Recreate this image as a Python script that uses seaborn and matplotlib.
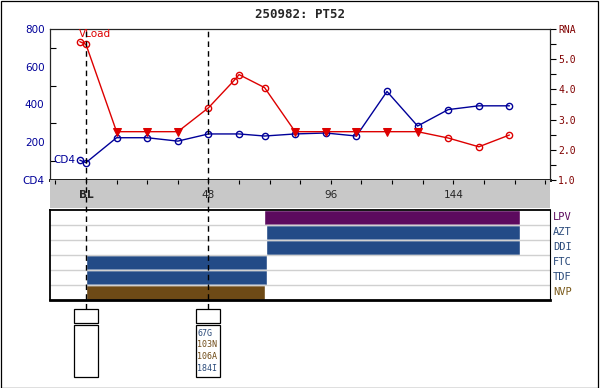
import matplotlib
matplotlib.use("Agg")
import matplotlib.pyplot as plt
from matplotlib.patches import Rectangle
import seaborn as sns

# CD4 counts (weeks from baseline)
cd4_weeks = [-2.4, 0, 12, 24, 36, 48, 60, 70, 82, 94, 106, 118, 130, 142, 154, 166]
cd4_vals = [105, 92, 224, 224, 206, 244, 244, 233, 244, 249, 233, 469, 286, 373, 393, 393]

# viral load (log10 RNA); below = under detection limit (triangle)
rna_weeks = [-2.4, 0, 12, 24, 36, 48, 58, 60, 70, 82, 94, 106, 118, 130, 142, 154, 166]
rna_vals = [5.58, 5.49, 2.6, 2.6, 2.6, 3.39, 4.29, 4.49, 4.06, 2.6, 2.6, 2.6, 2.6, 2.6, 2.39, 2.1, 2.49]
rna_below = [False, False, True, True, True, False, False, False, False,
             True, True, True, True, True, False, False, False]

# drug regimens
drugs = ["LPV", "AZT", "DDI", "FTC", "TDF", "NVP"]
drug_start = [69.8, 70.6, 70.6, 0, 0, 0]
drug_end = [170.1, 170.1, 170.1, 70.8, 70.8, 70.2]
drug_colors = ["#5C0A5E", "#234B87", "#234B87", "#234B87", "#234B87", "#6E4A16"]
label_colors = ["#5C0A5E", "#2A4A7A", "#2A4A7A", "#2A4A7A", "#2A4A7A", "#7A5A1A"]

# genotype boxes
geno_weeks = [0, 48]
geno_muts = [[], ["67G", "103N", "106A", "184I"]]
mut_colors = {"67G": "#2A4A7A", "103N": "#6E4A16", "106A": "#6E4A16", "184I": "#2A4A7A"}

band_ticks = [0, 48, 96, 144]
band_labels = ["BL", "48", "96", "144"]

sns.set_style("white")
plt.rcParams["font.family"] = ["DejaVu Sans"]

NAVY = "#000099"
RED = "#DD0000"
XLIM = (-14.1, 181.9)

W, H = 600, 388
fig = plt.figure(figsize=(6, 3.88), dpi=100)


def fax(x0, y0, x1, y1):
    return fig.add_axes([x0 / W, 1 - y1 / H, (x1 - x0) / W, (y1 - y0) / H])


# ---- top chart ----
ax = fax(50, 29, 550, 180)
sns.lineplot(x=cd4_weeks, y=cd4_vals, ax=ax, color=NAVY, lw=1, sort=False,
             marker="o", markersize=4.5, markerfacecolor="none",
             markeredgecolor=NAVY, markeredgewidth=1)
ax.set_xlim(*XLIM)
ax.set_ylim(0, 800)
ax.set_xticks([])
ax.set_yticks([0, 200, 400, 600, 800])
ax.set_yticklabels(["CD4", "200", "400", "600", "800"])
ax.set_yticks([100, 300, 500, 700], minor=True)
ax.tick_params(axis="y", which="major", left=True, length=0, pad=4, labelsize=7.5, labelcolor=NAVY)
ax.tick_params(axis="y", which="minor", left=True, direction="in", length=4, width=0.8, color="black")
for s in ax.spines.values():
    s.set_color("black")
    s.set_linewidth(0.8)
ax.spines["bottom"].set_linewidth(2)
ax.text(-4, 105, "CD4", color=NAVY, fontsize=7.5, ha="right", va="center")

ax2 = ax.twinx()
sns.lineplot(x=rna_weeks, y=rna_vals, ax=ax2, color=RED, lw=1, sort=False)
hi_x = [w for w, b in zip(rna_weeks, rna_below) if not b]
hi_y = [v for v, b in zip(rna_vals, rna_below) if not b]
lo_x = [w for w, b in zip(rna_weeks, rna_below) if b]
lo_y = [v for v, b in zip(rna_vals, rna_below) if b]
sns.lineplot(x=hi_x, y=hi_y, ax=ax2, sort=False, linestyle="none", marker="o",
             markersize=4.5, markerfacecolor="none", markeredgecolor=RED, markeredgewidth=1)
sns.lineplot(x=lo_x, y=lo_y, ax=ax2, sort=False, linestyle="none", marker="v",
             markersize=5.5, markerfacecolor=RED, markeredgecolor=RED)
ax2.set_xlim(*XLIM)
ax2.set_ylim(1, 6)
ax2.set_yticks([1, 2, 3, 4, 5, 6])
ax2.set_yticklabels(["1.0", "2.0", "3.0", "4.0", "5.0", "RNA"], family="DejaVu Sans Mono")
ax2.set_yticks([1.5, 2.5, 3.5, 4.5, 5.5], minor=True)
ax2.tick_params(axis="y", which="both", right=True, direction="out", length=4, width=0.8,
                color="black", labelsize=7, labelcolor="#800000", pad=2)
for s in ax2.spines.values():
    s.set_linewidth(0.8)
ax2.spines["bottom"].set_linewidth(2)
ax2.text(-2.6, 5.83, "VLoad", color=RED, fontsize=7.5, ha="left", va="center")

# ---- grey time band ----
band = fax(50, 180, 550, 208)
band.set_facecolor("#C8C8C8")
band.set_xlim(*XLIM)
band.set_ylim(0, 1)
band.xaxis.tick_top()
band.set_xticks(list(range(-12, 181, 12)))
band.set_xticklabels([])
band.set_yticks([])
band.tick_params(axis="x", top=True, direction="in", length=3, width=0.8, color="black")
for s in band.spines.values():
    s.set_visible(False)
for t, lab in zip(band_ticks, band_labels):
    band.text(t, 0.47, lab, ha="center", va="center", fontsize=7.5,
              fontweight="bold" if lab == "BL" else "normal")

# ---- drug panel ----
dax = fax(50, 210, 550, 299.5)
dax.set_xlim(*XLIM)
dax.set_ylim(6, 0)
for i, (d, s0, s1, c) in enumerate(zip(drugs, drug_start, drug_end, drug_colors)):
    dax.barh(i + 0.5, s1 - s0, left=s0, height=1, color=c, zorder=2)
    dax.text(1.006, 1 - (i + 0.5) / 6, d, transform=dax.transAxes, color=label_colors[i],
             fontsize=7.5, family="DejaVu Sans Mono", ha="left", va="center")
for yy in range(1, 6):
    dax.axhline(yy, color="#D0D0D0", lw=1, zorder=3)
dax.set_xticks([])
dax.set_yticks([])
for s in dax.spines.values():
    s.set_color("black")
    s.set_zorder(4)
dax.spines["left"].set_linewidth(1.3)
dax.spines["top"].set_linewidth(1.3)
dax.spines["bottom"].set_linewidth(2)
dax.spines["right"].set_linewidth(0.8)

# ---- genotype boxes ----
gax = fax(50, 300, 550, 388)
gax.set_xlim(*XLIM)
gax.set_ylim(388, 300)
gax.axis("off")
for gw, muts in zip(geno_weeks, geno_muts):
    gax.add_patch(Rectangle((gw - 4.8, 309), 9.5, 14, fill=False, ec="black", lw=0.9))
    gax.add_patch(Rectangle((gw - 4.8, 325), 9.5, 52, fill=False, ec="black", lw=0.9))
    for j, m in enumerate(muts):
        gax.text(gw - 4.3, 333 + j * 11.7, m, color=mut_colors[m], fontsize=6,
                 family="DejaVu Sans Mono", ha="left", va="center")

# ---- dashed timepoint lines ----
oax = fax(50, 29, 550, 309)
oax.set_xlim(*XLIM)
oax.axis("off")
oax.patch.set_alpha(0)
for gw in geno_weeks:
    oax.axvline(gw, color="black", lw=1, linestyle=(0, (4, 3)))

# title and border
fig.text(0.5, 1 - 15 / H, "250982: PT52", ha="center", va="center", fontsize=9,
         fontweight="bold", family="DejaVu Sans Mono")
fig.patches.append(Rectangle((0.5 / W, 1 - 387.5 / H), 597.5 / W, 387 / H,
                             transform=fig.transFigure, fill=False, ec="black", lw=0.9))

fig.savefig("out.png", dpi=100)
